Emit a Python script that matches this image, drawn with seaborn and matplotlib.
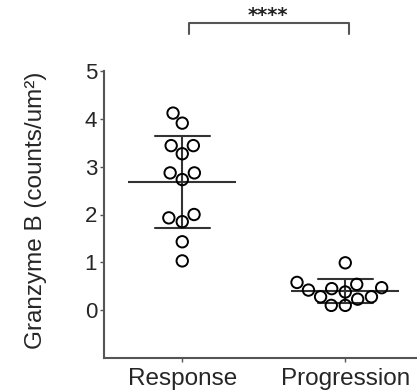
import pandas as pd
import matplotlib.pyplot as plt
import seaborn as sns

# Granzyme B density per patient
groups = ['Response', 'Progression']
response_vals = [4.12, 3.91, 3.44, 3.44, 3.27, 2.87, 2.87, 2.73,
                 2.00, 1.93, 1.85, 1.43, 1.03]
progression_vals = [0.99, 0.54, 0.45, 0.42, 0.47, 0.58, 0.38, 0.28,
                    0.23, 0.10, 0.10, 0.28]
y_ticks = [0, 1, 2, 3, 4, 5]
y_label = 'Granzyme B (counts/um²)'
sig_label = '****'

sns.set_style('ticks')
plt.rcParams['font.family'] = ['Liberation Sans', 'DejaVu Sans']

df = pd.DataFrame({
    'group': [groups[0]] * len(response_vals) + [groups[1]] * len(progression_vals),
    'value': response_vals + progression_vals,
})

fig = plt.figure(figsize=(4.17, 3.91), dpi=100)
ax = fig.add_axes([104 / 417, 1 - 358 / 391, 313 / 417, 287 / 391])

# hollow circles, beeswarm style
sns.swarmplot(data=df, x='group', y='value', order=groups, ax=ax,
              size=8.2, marker='o', facecolor='none', edgecolor='black',
              linewidth=1.4, color='black')

# mean line with SD whiskers
sns.pointplot(data=df, x='group', y='value', order=groups, ax=ax,
              errorbar='sd', capsize=0.34, color='#333333',
              markers='_', markersize=78, markeredgewidth=1.5,
              linestyle='none', err_kws={'linewidth': 1.5})

ax.set_ylim(-1, 5)
ax.set_xlim(-0.48, 1.44)
ax.set_yticks(y_ticks)
ax.tick_params(axis='y', labelsize=16, length=3, width=1, color='#555555', pad=2)
ax.tick_params(axis='x', labelsize=17.5, length=3, width=1, color='#555555', pad=4)
ax.set_xlabel('')
ax.set_ylabel(y_label, fontsize=17.5)
ax.yaxis.set_label_coords(-0.182, 0.516)

sns.despine(ax=ax)
for side in ['left', 'bottom']:
    ax.spines[side].set_color('#555555')
    ax.spines[side].set_linewidth(1.5)

# significance bracket
ax.plot([0.04, 0.04, 1.02, 1.02], [5.77, 6.0, 6.0, 5.77], color='#555555',
        lw=1.5, clip_on=False)
ax.text(0.528, 5.96, sig_label, ha='center', va='bottom', fontsize=14,
        fontweight='bold', family='DejaVu Sans', color='#222222')

fig.savefig('out.png', dpi=100)
